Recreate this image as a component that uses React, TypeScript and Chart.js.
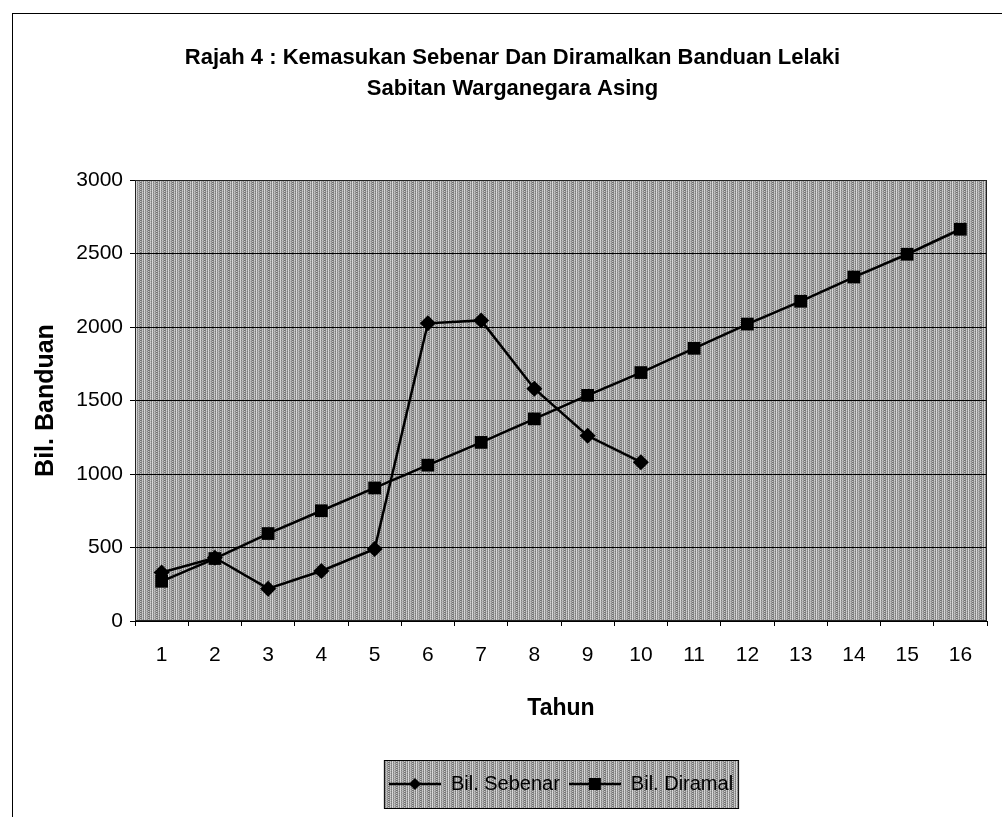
import React, { useEffect, useRef } from "react";
import { Chart, registerables } from "chart.js";

Chart.register(...registerables);

const TITLE_LINES = [
  "Rajah 4 : Kemasukan Sebenar Dan Diramalkan Banduan Lelaki",
  "Sabitan Warganegara Asing",
];
const YEARS = ["1", "2", "3", "4", "5", "6", "7", "8", "9", "10", "11", "12", "13", "14", "15", "16"];
const SEBENAR = [330, 430, 220, 340, 490, 2025, 2045, 1580, 1260, 1080];
const DIRAMAL = [270, 425, 595, 750, 905, 1060, 1215, 1375, 1535, 1690, 1855, 2020, 2175, 2340, 2495, 2665];
const SERIES_NAMES = ["Bil. Sebenar", "Bil. Diramal"];
const Y_MIN = 0;
const Y_MAX = 3000;
const Y_STEP = 500;
const X_TITLE = "Tahun";
const Y_TITLE = "Bil. Banduan";

const FONT = 'Arial, "Liberation Sans", sans-serif';

function makePattern(): HTMLCanvasElement {
  const c = document.createElement("canvas");
  c.width = 8;
  c.height = 4;
  const ctx = c.getContext("2d")!;
  const cols = ["#7a7a7a", "#d0d0d0", "#909090", "#dcdcdc", "#848484", "#c4c4c4", "#a0a0a0", "#6e6e6e"];
  const cols2 = ["#959595", "#b8b8b8", "#7c7c7c", "#d2d2d2", "#9c9c9c", "#b0b0b0", "#888888", "#c8c8c8"];
  for (let y = 0; y < 4; y++) {
    for (let x = 0; x < 8; x++) {
      ctx.fillStyle = y % 2 === 0 ? cols[x] : cols2[x];
      ctx.fillRect(x, y, 1, 1);
    }
  }
  return c;
}

function makeLegendIcon(style: "rectRot" | "rect"): HTMLCanvasElement {
  const c = document.createElement("canvas");
  c.width = 52;
  c.height = 20;
  const ctx = c.getContext("2d")!;
  ctx.strokeStyle = "#000";
  ctx.lineWidth = 2.5;
  ctx.beginPath();
  ctx.moveTo(0, 10);
  ctx.lineTo(52, 10);
  ctx.stroke();
  ctx.fillStyle = "#000";
  if (style === "rectRot") {
    ctx.beginPath();
    ctx.moveTo(26, 4);
    ctx.lineTo(32, 10);
    ctx.lineTo(26, 16);
    ctx.lineTo(20, 10);
    ctx.closePath();
    ctx.fill();
  } else {
    ctx.fillRect(20, 4, 12, 12);
  }
  return c;
}

export default function App() {
  const canvasRef = useRef<HTMLCanvasElement | null>(null);

  useEffect(() => {
    const canvas = canvasRef.current;
    if (!canvas) return;
    const patternCanvas = makePattern();
    const icons = [makeLegendIcon("rectRot"), makeLegendIcon("rect")];

    const customPlugin = {
      id: "customBg",
      afterLayout(chart: any) {
        const ca = chart.chartArea;
        if (chart.legend) {
          chart.legend.left = ca.left;
          chart.legend.right = ca.right;
        }
        if (chart.titleBlock) {
          chart.titleBlock.left = 10;
          chart.titleBlock.right = 989;
        }
      },
      beforeDraw(chart: any) {
        const ctx = chart.ctx as CanvasRenderingContext2D;
        const ca = chart.chartArea;
        const pat = ctx.createPattern(patternCanvas, "repeat");
        ctx.save();
        if (pat) ctx.fillStyle = pat;
        ctx.fillRect(ca.left, ca.top, ca.right - ca.left, ca.bottom - ca.top);
        const legend = chart.legend;
        if (legend && legend.legendHitBoxes && legend.legendHitBoxes.length) {
          const hb = legend.legendHitBoxes;
          const first = hb[0];
          const last = hb[hb.length - 1];
          const cy = first.top + first.height / 2;
          const left = first.left - 5;
          const right = last.left + last.width + 5;
          if (pat) ctx.fillStyle = pat;
          ctx.fillRect(left, cy - 24, right - left, 48);
          ctx.strokeStyle = "#000";
          ctx.lineWidth = 1;
          ctx.strokeRect(left + 0.5, cy - 24 + 0.5, right - left, 48);
        }
        ctx.restore();
      },
      beforeDatasetsDraw(chart: any) {
        const ctx = chart.ctx as CanvasRenderingContext2D;
        const ca = chart.chartArea;
        ctx.save();
        ctx.strokeStyle = "#222";
        ctx.lineWidth = 1;
        ctx.strokeRect(ca.left + 0.5, ca.top + 0.5, ca.right - ca.left - 1, ca.bottom - ca.top - 1);
        ctx.restore();
      },
    };

    const chart = new Chart(canvas, {
      type: "line",
      data: {
        labels: YEARS,
        datasets: [
          {
            label: SERIES_NAMES[0],
            data: SEBENAR,
            borderColor: "#000",
            backgroundColor: "#000",
            borderWidth: 2.5,
            pointStyle: "rectRot",
            pointRadius: 8,
            pointBorderWidth: 0,
            tension: 0,
          },
          {
            label: SERIES_NAMES[1],
            data: DIRAMAL,
            borderColor: "#000",
            backgroundColor: "#000",
            borderWidth: 2.5,
            pointStyle: "rect",
            pointRadius: 9,
            pointBorderWidth: 0,
            tension: 0,
          },
        ],
      },
      options: {
        responsive: false,
        animation: false,
        events: [],
        layout: { padding: { left: 0, right: 15, top: 0, bottom: 13 } },
        plugins: {
          tooltip: { enabled: false },
          title: {
            display: true,
            text: TITLE_LINES,
            color: "#000",
            font: { family: FONT, size: 22, weight: "bold", lineHeight: 31 / 22 },
            padding: { top: 28, bottom: 76 },
          },
          legend: {
            display: true,
            position: "bottom",
            labels: {
              color: "#000",
              font: { family: FONT, size: 20 },
              usePointStyle: true,
              pointStyleWidth: 52,
              padding: 9,
              generateLabels: (ch: any) => {
                const items = (Chart.defaults.plugins.legend.labels as any).generateLabels(ch);
                items.forEach((it: any, i: number) => {
                  it.pointStyle = icons[i];
                });
                return items;
              },
            },
          },
        },
        scales: {
          x: {
            type: "category",
            offset: true,
            afterFit: (scale: any) => {
              scale.height = 144;
            },
            grid: {
              display: true,
              offset: true,
              drawOnChartArea: false,
              drawTicks: true,
              tickLength: 5,
              color: "#000",
            },
            border: { display: true, color: "#000", width: 1 },
            ticks: {
              color: "#000",
              font: { family: FONT, size: 21 },
              padding: 17,
              maxRotation: 0,
              autoSkip: false,
            },
            title: {
              display: true,
              text: X_TITLE,
              color: "#000",
              font: { family: FONT, size: 23, weight: "bold" },
              padding: { top: 0, bottom: 43 },
            },
          },
          y: {
            min: Y_MIN,
            max: Y_MAX,
            afterFit: (scale: any) => {
              scale.width = 122;
            },
            grid: {
              color: "#000",
              lineWidth: 1,
              drawTicks: true,
              tickLength: 5,
            },
            border: { display: true, color: "#000", width: 1 },
            ticks: {
              stepSize: Y_STEP,
              color: "#000",
              font: { family: FONT, size: 21 },
              padding: 7,
              callback: (v: any) => String(v),
            },
            title: {
              display: true,
              text: Y_TITLE,
              color: "#000",
              font: { family: FONT, size: 25, weight: "bold" },
              padding: { top: 18, bottom: 0 },
            },
          },
        },
      },
      plugins: [customPlugin],
    } as any);

    return () => {
      chart.destroy();
    };
  }, []);

  return (
    <div
      style={{
        position: "fixed",
        left: 0,
        top: 0,
        width: 1002,
        height: 817,
        overflow: "hidden",
        background: "#fff",
      }}
    >
      <div
        style={{
          position: "absolute",
          left: 12,
          top: 13,
          width: 1010,
          height: 830,
          borderTop: "1px solid #000",
          borderLeft: "1px solid #000",
        }}
      >
        <canvas
          ref={canvasRef}
          width={989}
          height={803}
          style={{ position: "absolute", left: 0, top: 0, display: "block" }}
        />
      </div>
    </div>
  );
}
